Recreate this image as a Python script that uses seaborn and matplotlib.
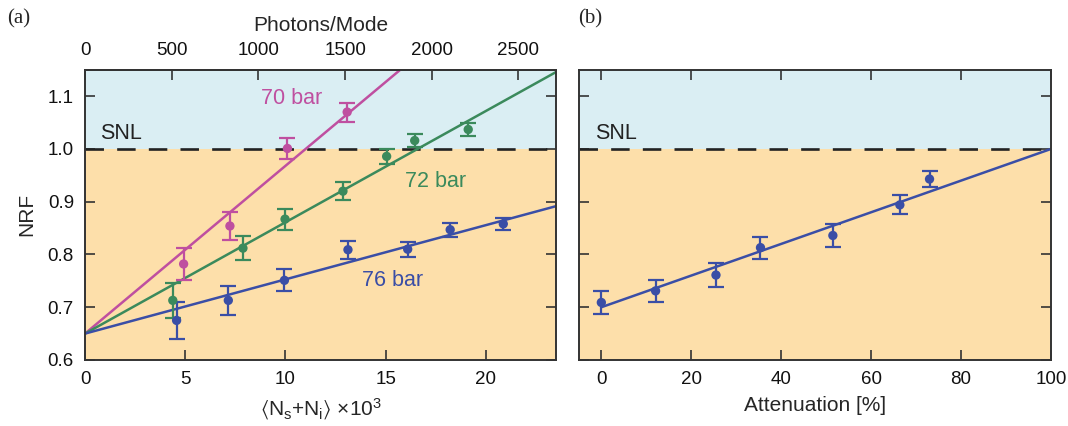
import numpy as np
import pandas as pd
import matplotlib
matplotlib.use('Agg')
import matplotlib.pyplot as plt
import seaborn as sns

sns.set_theme(style='ticks')
plt.rcParams['font.family'] = ['Liberation Sans', 'DejaVu Sans']
plt.rcParams['mathtext.fontset'] = 'custom'
plt.rcParams['mathtext.rm'] = 'Liberation Sans'
plt.rcParams['mathtext.it'] = 'Liberation Sans:italic'
plt.rcParams['mathtext.fallback'] = 'stixsans'

# (a) NRF vs total photon number, three pump pressures
x70 = [4.92, 7.23, 10.1, 13.08]
nrf70 = [0.782, 0.854, 1.001, 1.070]
err70 = [0.030, 0.026, 0.020, 0.018]

x72 = [4.38, 7.88, 9.98, 12.87, 15.05, 16.45, 19.12]
nrf72 = [0.713, 0.812, 0.867, 0.920, 0.986, 1.016, 1.037]
err72 = [0.033, 0.023, 0.020, 0.017, 0.014, 0.012, 0.012]

x76 = [4.57, 7.15, 9.95, 13.12, 16.10, 18.22, 20.87]
nrf76 = [0.675, 0.713, 0.751, 0.809, 0.810, 0.847, 0.858]
err76 = [0.035, 0.027, 0.021, 0.017, 0.014, 0.013, 0.011]

fit_intercept = 0.65
fit_slopes = {'70 bar': 0.0318, '72 bar': 0.0211, '76 bar': 0.01028}

# (b) NRF vs attenuation
atten = [0, 12.07, 25.5, 35.4, 51.5, 66.4, 73.0]
nrf_att = [0.709, 0.731, 0.761, 0.813, 0.836, 0.894, 0.943]
err_att = [0.021, 0.021, 0.022, 0.021, 0.021, 0.018, 0.016]
att_fit_x = [0, 100]
att_fit_y = [0.70, 1.00]

photons_per_1e3 = 115.6  # photons/mode per 10^3 total photons

colors = {'70 bar': '#bf4fa0', '72 bar': '#3b8a5c', '76 bar': '#3a4ea6'}
sky = '#daeef3'
sand = '#fddfaa'
ink = '#222222'

series = {
    '70 bar': (x70, nrf70, err70),
    '72 bar': (x72, nrf72, err72),
    '76 bar': (x76, nrf76, err76),
}
rows = []
for name, (xs, ys, es) in series.items():
    for xv, yv, ev in zip(xs, ys, es):
        rows.append({'N': xv, 'NRF': yv, 'err': ev, 'pressure': name})
df = pd.DataFrame(rows)
df_att = pd.DataFrame({'atten': atten, 'NRF': nrf_att, 'err': err_att})

fig = plt.figure(figsize=(10.68, 4.26), dpi=100)
ax1 = fig.add_axes([0.0796, 0.155, 0.441, 0.681])
ax2 = fig.add_axes([0.542, 0.155, 0.442, 0.681])

ylim = (0.6, 1.15)
for ax in (ax1, ax2):
    ax.axhspan(1.0, ylim[1], color=sky, zorder=0, lw=0)
    ax.axhspan(ylim[0], 1.0, color=sand, zorder=0, lw=0)
    ax.axhline(1.0, color=ink, lw=1.9, dashes=(7, 5), zorder=1)
    ax.set_ylim(*ylim)
    ax.set_yticks([0.6, 0.7, 0.8, 0.9, 1.0, 1.1])
    for s in ax.spines.values():
        s.set_color('#333333')
        s.set_linewidth(1.4)
        s.set_visible(True)
    ax.tick_params(direction='in', length=7, width=1.2, color='#333333',
                   labelsize=13.5, pad=8, right=True, labelcolor='#111111')

# panel (a)
x_max = 23.5
fit_x = np.array([0, x_max])
for name, slope in fit_slopes.items():
    line = pd.DataFrame({'N': fit_x, 'NRF': fit_intercept + slope * fit_x})
    sns.lineplot(data=line, x='N', y='NRF', color=colors[name], lw=1.8, ax=ax1, zorder=2)
for name in series:
    sub = df[df['pressure'] == name]
    ax1.errorbar(sub['N'], sub['NRF'], yerr=sub['err'], fmt='none', ecolor=colors[name],
                 elinewidth=1.6, capsize=6, capthick=1.6, zorder=3)
sns.scatterplot(data=df, x='N', y='NRF', hue='pressure', palette=colors, s=45,
                edgecolor='none', legend=False, ax=ax1, zorder=4)
ax1.set_xlim(0, x_max)
ax1.set_xticks([0, 5, 10, 15, 20])
ax1.tick_params(top=False)
ax1.set_xlabel(r'$\langle$N$_\mathrm{s}$+N$_\mathrm{i}$$\rangle$ $\times$10$^3$', fontsize=15, labelpad=6)
ax1.set_ylabel('NRF', fontsize=15, labelpad=8)

top = ax1.secondary_xaxis('top', functions=(lambda v: v * photons_per_1e3,
                                           lambda p: p / photons_per_1e3))
top.set_xticks([0, 500, 1000, 1500, 2000, 2500])
top.tick_params(direction='in', length=7, width=1.2, color='#333333',
                labelsize=13.5, pad=8, labelcolor='#111111')
top.spines['top'].set_color('#333333')
top.spines['top'].set_linewidth(1.4)
top.set_xlabel('Photons/Mode', fontsize=15, labelpad=8)

ax1.text(0.73, 1.029, 'SNL', fontsize=15.5, color=ink, va='center', ha='left')
ax1.text(8.8, 1.095, '70 bar', fontsize=15.5, color=colors['70 bar'], va='center', ha='left')
ax1.text(15.95, 0.938, '72 bar', fontsize=15.5, color=colors['72 bar'], va='center', ha='left')
ax1.text(13.83, 0.751, '76 bar', fontsize=15.5, color=colors['76 bar'], va='center', ha='left')

# panel (b)
blue = colors['76 bar']
sns.lineplot(x=att_fit_x, y=att_fit_y, color=blue, lw=1.8, ax=ax2, zorder=2)
ax2.errorbar(df_att['atten'], df_att['NRF'], yerr=df_att['err'], fmt='none', ecolor=blue,
             elinewidth=1.6, capsize=6, capthick=1.6, zorder=3)
sns.scatterplot(data=df_att, x='atten', y='NRF', color=blue, s=45, edgecolor='none',
                ax=ax2, zorder=4)
ax2.set_xlim(-5, 100)
ax2.set_xticks([0, 20, 40, 60, 80, 100])
ax2.tick_params(top=True, labelleft=False)
ax2.set_xlabel('Attenuation [%]', fontsize=15, labelpad=6)
ax2.set_ylabel('')
ax2.text(-1.5, 1.029, 'SNL', fontsize=15.5, color=ink, va='center', ha='left')

fig.text(0.007, 0.955, '(a)', family=['Liberation Serif', 'DejaVu Serif'], fontsize=15, va='center')
fig.text(0.541, 0.955, '(b)', family=['Liberation Serif', 'DejaVu Serif'], fontsize=15, va='center')

fig.savefig('out.png', dpi=100)
